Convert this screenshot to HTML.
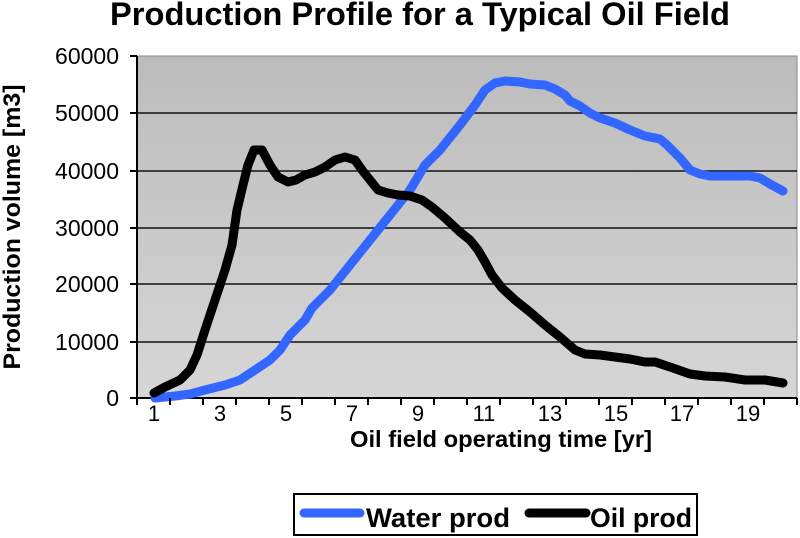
<!DOCTYPE html>
<html><head><meta charset="utf-8"><style>
html,body{margin:0;padding:0;background:#fff;}
svg{display:block;font-family:"Liberation Sans",Arial,sans-serif;}
</style></head><body>
<svg width="800" height="538" viewBox="0 0 800 538" xmlns="http://www.w3.org/2000/svg">
<defs>
<linearGradient id="bg" x1="0" y1="0" x2="0" y2="1">
<stop offset="0" stop-color="#bcbcbc"/><stop offset="1" stop-color="#d6d6d6"/>
</linearGradient>
</defs>
<text x="420" y="25" text-anchor="middle" font-size="32" font-weight="bold" textLength="620" lengthAdjust="spacingAndGlyphs">Production Profile for a Typical Oil Field</text>
<rect x="137" y="56" width="660" height="342" fill="url(#bg)" stroke="#888" stroke-width="1"/>
<g stroke="#111" stroke-width="1.5">
<line x1="137" y1="113" x2="797" y2="113"/>
<line x1="137" y1="171" x2="797" y2="171"/>
<line x1="137" y1="228" x2="797" y2="228"/>
<line x1="137" y1="284" x2="797" y2="284"/>
<line x1="137" y1="342" x2="797" y2="342"/>
</g>
<g stroke="#000" stroke-width="2">
<line x1="137" y1="56" x2="137" y2="398"/>
<line x1="137" y1="398" x2="797" y2="398"/>
<line x1="130" y1="56" x2="137" y2="56"/><line x1="130" y1="113" x2="137" y2="113"/>
<line x1="130" y1="171" x2="137" y2="171"/><line x1="130" y1="228" x2="137" y2="228"/>
<line x1="130" y1="284" x2="137" y2="284"/><line x1="130" y1="342" x2="137" y2="342"/>
<line x1="130" y1="398" x2="137" y2="398"/>
</g>
<g font-size="23" text-anchor="end">
<text x="119" y="64">60000</text><text x="119" y="121">50000</text>
<text x="119" y="179">40000</text><text x="119" y="236">30000</text>
<text x="119" y="292">20000</text><text x="119" y="350">10000</text>
<text x="119" y="406">0</text>
</g>
<g font-size="22" text-anchor="middle">
<text x="154" y="421">1</text><text x="220" y="421">3</text><text x="286" y="421">5</text>
<text x="352" y="421">7</text><text x="418" y="421">9</text><text x="484" y="421">11</text>
<text x="550" y="421">13</text><text x="616" y="421">15</text><text x="682" y="421">17</text>
<text x="748" y="421">19</text>
</g>
<text x="501" y="447" text-anchor="middle" font-size="23" font-weight="bold" textLength="302" lengthAdjust="spacingAndGlyphs">Oil field operating time [yr]</text>
<text transform="translate(20,227) rotate(-90)" text-anchor="middle" font-size="24" font-weight="bold" textLength="285" lengthAdjust="spacingAndGlyphs">Production volume [m3]</text>
<polyline fill="none" stroke="#3366ff" stroke-width="9" stroke-linejoin="round" stroke-linecap="round" points="155,398 175,396 190,394 205,390 225,385 240,380 255,370 270,360 280,350 290,335 305,320 312,308 330,290 350,265 370,240 390,215 410,190 425,165 440,150 460,125 475,105 485,90 495,83 505,81 520,82 530,84 545,85 555,89 565,95 570,101 580,106 590,113 600,118 615,123 630,130 645,136 660,139 667,145 680,158 690,170 700,174 710,176 730,176 750,176 760,178 770,184 783,191"/>
<polyline fill="none" stroke="#000" stroke-width="9" stroke-linejoin="round" stroke-linecap="round" points="154,393 165,387 180,380 190,370 197,355 205,330 215,300 225,270 232,245 237,210 243,185 248,165 254,150 262,150 270,165 278,177 288,182 296,180 305,175 315,172 325,167 335,160 345,157 355,160 362,170 370,180 378,190 388,193 398,195 410,196 422,200 432,207 445,218 460,232 470,240 478,250 485,262 492,275 502,288 515,300 530,312 545,325 560,337 575,350 585,354 600,355 615,357 630,359 645,362 655,362 670,367 690,374 705,376 725,377 745,380 765,380 783,383"/>
<rect x="294" y="494" width="403" height="41" fill="#fff" stroke="#000" stroke-width="2"/>
<line x1="304" y1="513" x2="360" y2="513" stroke="#3366ff" stroke-width="9" stroke-linecap="round"/>
<text x="366" y="527" font-size="27" font-weight="bold" textLength="144" lengthAdjust="spacingAndGlyphs">Water prod</text>
<line x1="529" y1="513" x2="586" y2="513" stroke="#000" stroke-width="9" stroke-linecap="round"/>
<text x="590" y="527" font-size="27" font-weight="bold" textLength="102" lengthAdjust="spacingAndGlyphs">Oil prod</text>
<g stroke="#000" stroke-width="2">
<line x1="170" y1="398" x2="170" y2="405"/><line x1="203" y1="398" x2="203" y2="405"/>
<line x1="236" y1="398" x2="236" y2="405"/><line x1="269" y1="398" x2="269" y2="405"/>
<line x1="302" y1="398" x2="302" y2="405"/><line x1="335" y1="398" x2="335" y2="405"/>
<line x1="368" y1="398" x2="368" y2="405"/><line x1="401" y1="398" x2="401" y2="405"/>
<line x1="434" y1="398" x2="434" y2="405"/><line x1="467" y1="398" x2="467" y2="405"/>
<line x1="500" y1="398" x2="500" y2="405"/><line x1="533" y1="398" x2="533" y2="405"/>
<line x1="566" y1="398" x2="566" y2="405"/><line x1="599" y1="398" x2="599" y2="405"/>
<line x1="632" y1="398" x2="632" y2="405"/><line x1="665" y1="398" x2="665" y2="405"/>
<line x1="698" y1="398" x2="698" y2="405"/><line x1="731" y1="398" x2="731" y2="405"/>
<line x1="764" y1="398" x2="764" y2="405"/><line x1="797" y1="398" x2="797" y2="405"/>
<line x1="137" y1="398" x2="137" y2="405"/>
</g>
</svg>
</body></html>
